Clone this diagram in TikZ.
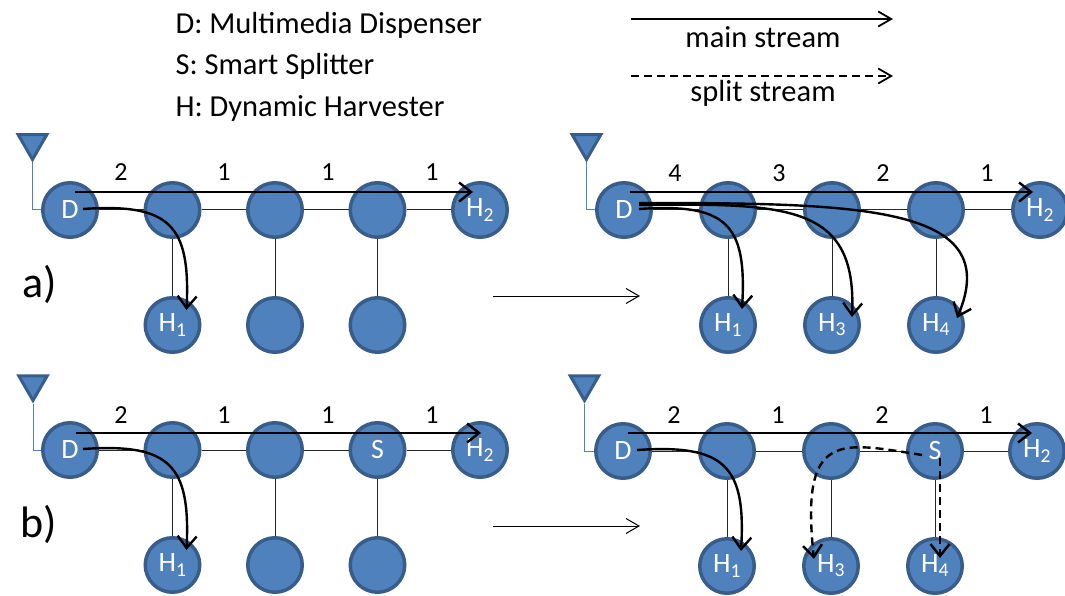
\documentclass[tikz,border=0pt]{standalone}
\usepackage{fontspec}
\setmainfont{Carlito}
\usetikzlibrary{arrows.meta}
\usetikzlibrary{calc,positioning,shapes.geometric}
\definecolor{nodefill}{HTML}{4F81BD}
\definecolor{nodeline}{HTML}{385D8A}
\begin{document}
\begin{tikzpicture}[x=1pt, y=-1pt,
		peer/.style={circle, draw=nodeline, fill=nodefill, line width=3.5pt, minimum size=54.5pt, inner sep=0pt, text=white, font=\fontsize{28}{30}\selectfont},
		antenna/.style={regular polygon, regular polygon sides=3, shape border rotate=180, draw=nodeline, fill=nodefill, line width=3pt, minimum size=33pt, inner sep=0pt},
		feed/.style={draw=nodefill, line width=1pt},
		link/.style={draw=black!85, line width=1pt},
		weight/.style={font=\fontsize{26}{28}\selectfont},
		legend/.style={anchor=west, font=\fontsize{30.5}{32}\selectfont},
		panel/.style={font=\fontsize{44}{46}\selectfont},
		mainstream/.style={-{Straight Barb[length=12pt,width=19pt]}, line width=2.4pt},
		splitstream/.style={mainstream, dashed, dash pattern=on 8pt off 5pt},
		thinarrow/.style={-{Straight Barb[length=13pt,width=15pt]}, line width=1pt},
		keyarrow/.style={-{Straight Barb[length=13pt,width=15pt]}, line width=1.8pt}]
	\useasboundingbox (0,0) rectangle (1065,596);

	\node[legend](keyD) at (172,25){D: Multimedia Dispenser};
	\node[legend](keyS) at (172,66){S: Smart Splitter};
	\node[legend](keyH) at (172,108){H: Dynamic Harvester};
	\coordinate(mainA) at (631,19);
	\coordinate(mainB) at (893,19);
	\coordinate(splitA) at (631,76);
	\coordinate(splitB) at (893,76);
	\draw[keyarrow](mainA) -- (mainB);
	\draw[keyarrow, dashed, dash pattern=on 8pt off 5pt](splitA) -- (splitB);
	\node[legend, anchor=center](mainText) at (763,37){main stream};
	\node[legend, anchor=center](splitText) at (763,93){split stream};
	\node[panel](labelA) at (40,284){a)};
	\node[panel](labelB) at (39,524){b)};

	\coordinate(stepAa) at (493,296);
	\coordinate(stepAb) at (640,296);
	\coordinate(stepBa) at (493,526);
	\coordinate(stepBb) at (640,526);
	\draw[thinarrow](stepAa) -- (stepAb);
	\draw[thinarrow](stepBa) -- (stepBb);

	% a) left
	\node[peer](aLD) at (70,210){D};
	\node[peer, right=44.5pt of aLD](aLb){};
	\node[peer, right=44.5pt of aLb](aLc){};
	\node[peer, right=44.5pt of aLc](aLd){};
	\node[peer, right=44.5pt of aLd](aLH2){H\textsubscript{2}};
	\node[peer, below=57pt of aLb](aLH1){H\textsubscript{1}};
	\node[peer, below=57pt of aLc](aLf){};
	\node[peer, below=57pt of aLd](aLg){};
	\node[antenna](aLant) at (32.5,143){};
	\draw[feed](aLant.corner 1) |- (aLD);
	\draw[link](aLD) -- (aLb);
	\draw[link](aLb) -- (aLc);
	\draw[link](aLc) -- (aLd);
	\draw[link](aLd) -- (aLH2);
	\draw[link](aLb) -- (aLH1);
	\draw[link](aLc) -- (aLf);
	\draw[link](aLd) -- (aLg);
	\node[weight](aLw1) at (121,172){2};
	\node[weight](aLw2) at (224,172){1};
	\node[weight](aLw3) at (328,172){1};
	\node[weight](aLw4) at (432,172){1};
	\draw[mainstream]($(aLD)+(5,-18)$) -- ($(aLH2)+(-7,-18)$);
	\draw[mainstream]($(aLD)+(13,-1)$) .. controls +(87,-6) and +(4,-85) .. ($(aLH1)+(14,-15)$);

	% a) right
	\node[peer](aRD) at (624,210){D};
	\node[peer, right=46pt of aRD](aRb){};
	\node[peer, right=46pt of aRb](aRc){};
	\node[peer, right=46pt of aRc](aRd){};
	\node[peer, right=46pt of aRd](aRH2){H\textsubscript{2}};
	\node[peer, below=57pt of aRb](aRH1){H\textsubscript{1}};
	\node[peer, below=57pt of aRc](aRH3){H\textsubscript{3}};
	\node[peer, below=57pt of aRd](aRH4){H\textsubscript{4}};
	\node[antenna](aRant) at (586.5,143){};
	\draw[feed](aRant.corner 1) |- (aRD);
	\draw[link](aRD) -- (aRb);
	\draw[link](aRb) -- (aRc);
	\draw[link](aRc) -- (aRd);
	\draw[link](aRd) -- (aRH2);
	\draw[link](aRb) -- (aRH1);
	\draw[link](aRc) -- (aRH3);
	\draw[link](aRd) -- (aRH4);
	\node[weight](aRw1) at (675,173){4};
	\node[weight](aRw2) at (779,173){3};
	\node[weight](aRw3) at (883,173){2};
	\node[weight](aRw4) at (987,173){1};
	\draw[mainstream]($(aRD)+(6,-18)$) -- ($(aRH2)+(-7,-18)$);
	\draw[mainstream]($(aRD)+(15,-1)$) .. controls +(88,-6) and +(5,-85) .. ($(aRH1)+(14,-16)$);
	\draw[mainstream]($(aRD)+(15,-5)$) .. controls +(151,-2) and +(5,-112) .. ($(aRH3)+(20,-8)$);
	\draw[mainstream]($(aRD)+(15,-7)$) .. controls +(221,0) and +(48,-113) .. ($(aRH4)+(21,-7)$);

	% b) left
	\node[peer](bLD) at (70,450){D};
	\node[peer, right=44.5pt of bLD](bLb){};
	\node[peer, right=44.5pt of bLb](bLc){};
	\node[peer, right=44.5pt of bLc](bLS){S};
	\node[peer, right=44.5pt of bLS](bLH2){H\textsubscript{2}};
	\node[peer, below=57pt of bLb](bLH1){H\textsubscript{1}};
	\node[peer, below=57pt of bLc](bLf){};
	\node[peer, below=57pt of bLS](bLg){};
	\node[antenna](bLant) at (33,384){};
	\draw[feed](bLant.corner 1) |- (bLD);
	\draw[link](bLD) -- (bLb);
	\draw[link](bLb) -- (bLc);
	\draw[link](bLc) -- (bLS);
	\draw[link](bLS) -- (bLH2);
	\draw[link](bLb) -- (bLH1);
	\draw[link](bLc) -- (bLf);
	\draw[link](bLS) -- (bLg);
	\node[weight](bLw1) at (121,415){2};
	\node[weight](bLw2) at (224,415){1};
	\node[weight](bLw3) at (328,415){1};
	\node[weight](bLw4) at (432,415){1};
	\draw[mainstream]($(bLD)+(6,-17)$) -- ($(bLH2)+(1,-17)$);
	\draw[mainstream]($(bLD)+(13,-1)$) .. controls +(87,-6) and +(4,-85) .. ($(bLH1)+(14,-15)$);

	% b) right
	\node[peer](bRD) at (623,451){D};
	\node[peer, right=46pt of bRD](bRb){};
	\node[peer, right=46pt of bRb](bRc){};
	\node[peer, right=46pt of bRc](bRS){S};
	\node[peer, right=44pt of bRS](bRH2){H\textsubscript{2}};
	\node[peer, below=57pt of bRb](bRH1){H\textsubscript{1}};
	\node[peer, below=57pt of bRc](bRH3){H\textsubscript{3}};
	\node[peer, below=57pt of bRS](bRH4){H\textsubscript{4}};
	\node[antenna](bRant) at (584.5,384){};
	\draw[feed](bRant.corner 1) |- (bRD);
	\draw[link](bRD) -- (bRb);
	\draw[link](bRb) -- (bRc);
	\draw[link](bRc) -- (bRS);
	\draw[link](bRS) -- (bRH2);
	\draw[link](bRb) -- (bRH1);
	\draw[link](bRc) -- (bRH3);
	\draw[link](bRS) -- (bRH4);
	\node[weight](bRw1) at (674,415){2};
	\node[weight](bRw2) at (778,415){1};
	\node[weight](bRw3) at (882,415){2};
	\node[weight](bRw4) at (986,415){1};
	\draw[mainstream]($(bRD)+(5,-18)$) -- ($(bRH2)+(-5,-18)$);
	\draw[mainstream]($(bRD)+(14,-1)$) .. controls +(88,-6) and +(5,-85) .. ($(bRH1)+(14,-15)$);
	\draw[splitstream]($(bRS)+(-13,4)$) .. controls +(-82,-13) and +(-14,-129) .. ($(bRH3)+(-17,-7)$);
	\draw[splitstream]($(bRS)+(5,7)$) -- ($(bRH4)+(5,-8)$);
\end{tikzpicture}
\end{document}
